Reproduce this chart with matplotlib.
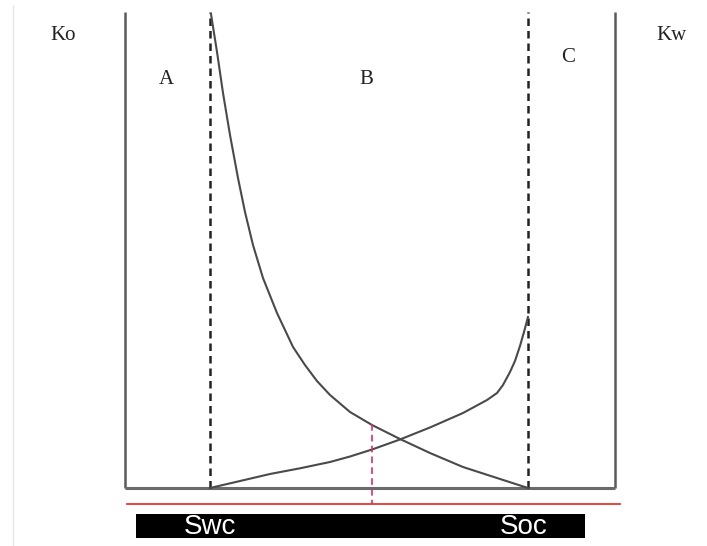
import matplotlib
matplotlib.use("Agg")
import matplotlib.pyplot as plt
from matplotlib.patches import Rectangle

# ---- data (saturation on x, relative permeability on y, both 0..1) ----
ko_s = [0.1755, 0.1878, 0.2000, 0.2143, 0.2306, 0.2449, 0.2612, 0.2816,
        0.3102, 0.3429, 0.3673, 0.3918, 0.4184, 0.4592, 0.5041, 0.5612,
        0.6224, 0.6898, 0.7592, 0.8224]
ko_k = [0.9916, 0.9121, 0.8264, 0.7385, 0.6485, 0.5774, 0.5084, 0.4393,
        0.3661, 0.2950, 0.2573, 0.2238, 0.1946, 0.1590, 0.1318, 0.1025,
        0.0732, 0.0439, 0.0209, 0.0000]
kw_s = [0.1735, 0.2347, 0.2959, 0.3571, 0.4184, 0.4592, 0.5041, 0.5612,
        0.6224, 0.6898, 0.7388, 0.7592, 0.7714, 0.7857, 0.7959, 0.8061,
        0.8143, 0.8224]
kw_k = [0.0000, 0.0146, 0.0293, 0.0412, 0.0544, 0.0659, 0.0805, 0.1015,
        0.1266, 0.1569, 0.1841, 0.1987, 0.2155, 0.2427, 0.2657, 0.2971,
        0.3264, 0.3577]
swc = 0.174
soc = 0.823
s_mark = 0.504
region_labels = ["A", "B", "C"]
axis_labels = ["Ko", "Kw"]
bar_labels = ["Swc", "Soc"]

W, H = 707, 546
fig = plt.figure(figsize=(W / 100, H / 100), dpi=100)
ax = fig.add_axes([0, 0, 1, 1])
# pixel mapping: x=125px -> 0, x=615px -> 1 ; y=488px -> 0, y=10px -> 1
sx, sy = 490.0, 478.0
ax.set_xlim(-125 / sx, (W - 125) / sx)
ax.set_ylim(-(H - 488) / sy, 488 / sy)
ax.axis("off")

def X(px):
    return (px - 125) / sx

def Y(py):
    return (488 - py) / sy

frame_c = "#5a5a5a"
top = Y(12)
# frame
ax.plot([0, 0], [0, top], color=frame_c, lw=1.8, solid_capstyle="butt")
ax.plot([1, 1], [0, top], color=frame_c, lw=1.8, solid_capstyle="butt")
ax.plot([0, 1], [0, 0], color="#6a6a6a", lw=2.2, solid_capstyle="butt")
# faint image border
ax.plot([X(13), X(13)], [Y(5), Y(546)], color="#e6e6e6", lw=1)

# dashed verticals
for s in (swc, soc):
    ax.plot([s, s], [0, top], color="#222222", lw=1.8, ls=(0, (3, 2)))

# curves
ax.plot(ko_s, ko_k, color="#4a4a4a", lw=1.5, solid_joinstyle="round")
ax.plot(kw_s, kw_k, color="#4a4a4a", lw=1.5, solid_joinstyle="round")

# red line and red dashed marker
ax.plot([X(127), X(620)], [Y(504), Y(504)], color="#e8372f", lw=1.3)
ax.plot([s_mark, s_mark], [Y(424), Y(504)], color="#d8306a", lw=1.2,
        ls=(0, (4, 2.5)))

# black bar
ax.add_patch(Rectangle((X(136), Y(538)), X(585) - X(136), Y(514) - Y(538),
                       facecolor="black", edgecolor="none"))
for lab, s in zip(bar_labels, (swc + 0.0, soc - 0.01)):
    ax.text(s, Y(527), lab, color="white", fontsize=20,
            family="Liberation Sans", ha="center", va="center")

serif = "Liberation Serif"
ax.text(X(63), Y(36), axis_labels[0], fontsize=15, family=serif,
        ha="center", va="center", color="#222222")
ax.text(X(671), Y(36), axis_labels[1], fontsize=15, family=serif,
        ha="center", va="center", color="#222222")
for lab, (px, py) in zip(region_labels, [(166, 80), (366, 80), (568, 58)]):
    ax.text(X(px), Y(py), lab, fontsize=15, family=serif,
            ha="center", va="center", color="#222222")

fig.savefig("out.png", dpi=100)
